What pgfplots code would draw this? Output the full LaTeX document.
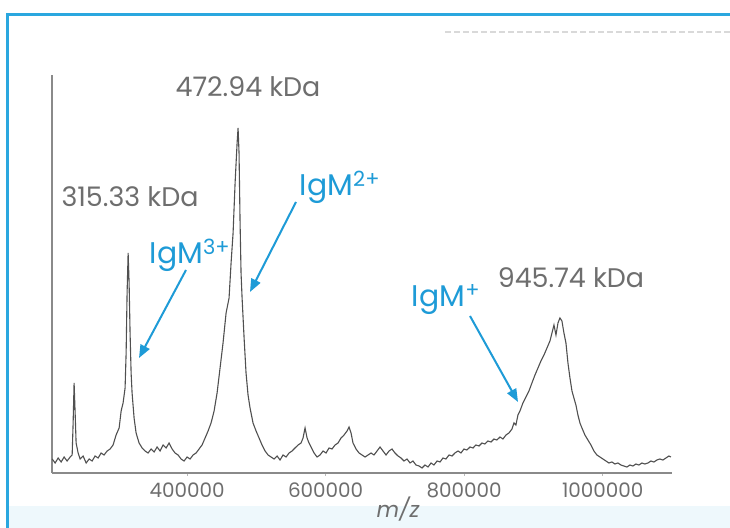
\documentclass[border=0pt]{standalone}
\usepackage{pgfplots}
\pgfplotsset{compat=1.18}
\usepackage{fontspec}
\setmainfont{Poppins}
\usetikzlibrary{arrows.meta}
\definecolor{txtgray}{HTML}{6E6E6E}
\definecolor{annblue}{HTML}{1E9BD7}
\definecolor{frameblue}{HTML}{2AA7DF}
\definecolor{axgray}{HTML}{8A8A8A}
\definecolor{specgray}{HTML}{505050}
\begin{document}
\begin{tikzpicture}[x=1bp,y=1bp]
\begin{scope}[shift={(-52bp,-55bp)}]
\useasboundingbox (0,0) rectangle (730,528);
\fill[white] (0,0) rectangle (730,528);
\fill[frameblue!8] (8,0) rectangle (730,22);
\draw[frameblue, line width=3bp] (8,0) -- (8,513) -- (730,513);
\draw[black!15, line width=1.2bp, dash pattern=on 6bp off 3bp] (445,496) -- (730,496);
\end{scope}
\begin{axis}[
  at={(0,0)}, anchor=south west,
  scale only axis, width=620bp, height=398bp,
  xmin=205000, xmax=1100000, ymin=0, ymax=398,
  axis x line*=bottom, axis y line*=left,
  axis line style={axgray, line width=1.3bp},
  ytick=\empty,
  xtick={400000,600000,800000,1000000},
  xticklabels={400000,600000,800000,1000000},
  scaled x ticks=false,
  tick align=outside, major tick length=3bp,
  tick style={axgray!60, line width=0.6bp},
  xticklabel style={font=\fontsize{20}{24}\selectfont, text=txtgray, yshift=-3bp},
  /pgf/number format/assume math mode=true,
  clip=false,
]
\addplot[specgray, line width=1.1bp] coordinates {
(205200,14) (209500,10) (213900,15) (218200,11) (222500,16) (226800,12) (231200,16) (234100,18)
(235500,50) (236900,90) (238400,60) (239800,30) (242700,20) (245600,14) (249900,17) (254300,10)
(258600,14) (262900,12) (267200,17) (271600,15) (275900,20) (280200,18) (284600,22) (288900,24)
(293200,28) (297500,38) (301900,45) (304800,62) (307600,70) (310500,85) (312000,120) (313400,180)
(314900,220) (316300,190) (317700,140) (319200,100) (320600,80) (323500,55) (326400,40) (330700,30)
(335100,25) (339400,22) (343700,20) (348100,24) (352400,21) (356700,26) (361000,22) (365400,28)
(369700,25) (374000,30) (378400,24) (382700,20) (387000,18) (391300,14) (395700,12) (400000,16)
(404300,14) (408700,18) (413000,20) (417300,24) (421600,28) (426000,35) (430300,42) (434600,50)
(439000,62) (443300,80) (447600,105) (451900,130) (456300,160) (460600,175) (463500,210) (466400,240)
(469300,290) (472200,330) (473600,345) (475000,320) (476500,250) (477900,200) (479400,175) (482300,135)
(485100,100) (488000,78) (490900,65) (495200,50) (499600,42) (503900,35) (508200,28) (512600,22)
(516900,18) (521200,16) (525500,14) (529900,17) (534200,13) (538500,18) (542900,16) (547200,20)
(551500,22) (555800,25) (560200,28) (564500,30) (567400,35) (570300,45) (573200,35) (576000,30)
(578900,26) (583300,20) (587600,16) (591900,18) (596200,22) (600600,20) (604900,25) (609200,24)
(613600,28) (617900,30) (622200,35) (626600,38) (630900,42) (633800,46) (636700,40) (639500,30)
(643900,24) (648200,20) (652500,18) (656900,16) (661200,18) (665500,20) (669800,18) (674200,22)
(678500,26) (682800,22) (687200,18) (691500,22) (695800,24) (700100,20) (704500,17) (708800,15)
(713100,12) (717500,14) (721800,10) (726100,12) (730400,8) (734800,7) (739100,5) (743400,8)
(747800,6) (752100,10) (756400,8) (760800,12) (765100,11) (769400,15) (773700,14) (778100,18)
(782400,17) (786700,20) (791100,22) (795400,20) (799700,24) (804000,23) (808400,26) (812700,25)
(817000,28) (821400,27) (825700,30) (830000,29) (834300,32) (838700,31) (843000,34) (847300,33)
(851700,36) (856000,34) (860300,38) (864600,40) (869000,44) (871900,50) (874700,48) (877600,58)
(880500,62) (884800,70) (889200,76) (893500,82) (897800,90) (902200,98) (906500,105) (910800,112)
(915200,118) (919500,125) (923800,132) (926700,140) (929600,148) (932500,138) (935400,150) (938200,155)
(941100,152) (944000,140) (946900,130) (949800,110) (952700,95) (955600,82) (958400,75) (961300,68)
(964200,58) (967100,50) (970000,45) (974300,38) (978600,33) (983000,28) (987300,22) (991600,18)
(996000,16) (1000300,14) (1004600,12) (1008900,10) (1013300,11) (1017600,9) (1021900,10) (1026300,8)
(1030600,7) (1034900,6) (1039200,8) (1043600,7) (1047900,9) (1052200,8) (1056600,10) (1060900,9)
(1065200,10) (1069600,12) (1073900,11) (1078200,13) (1082500,14) (1086900,13) (1091200,15) (1095500,17)
(1098400,16)
};
\end{axis}
\begin{scope}[shift={(-52bp,-55bp)}]
\node[text=txtgray, font=\fontsize{27}{32}\selectfont] at (248,441) {472.94 kDa};
\node[text=txtgray, font=\fontsize{27}{32}\selectfont] at (130,331) {315.33 kDa};
\node[text=txtgray, font=\fontsize{27}{32}\selectfont] at (571,250) {945.74 kDa};
\node[text=annblue, font=\fontsize{30}{34}\selectfont] at (190,273) {IgM\textsuperscript{3+}};
\node[text=annblue, font=\fontsize{30}{34}\selectfont] at (340,341) {IgM\textsuperscript{2+}};
\node[text=annblue, font=\fontsize{30}{34}\selectfont] at (446,228) {IgM\textsuperscript{+}};
\draw[annblue, line width=2bp, -{Triangle[length=13bp,width=10bp]}] (296,326) -- (250,236);
\draw[annblue, line width=2bp, -{Triangle[length=13bp,width=10bp]}] (186,258) -- (139,170);
\draw[annblue, line width=2bp, -{Triangle[length=13bp,width=10bp]}] (470,212) -- (518,126);
\node[text=txtgray, font=\fontsize{22}{26}\selectfont\itshape] at (398,19) {m/z};
\end{scope}
\end{tikzpicture}
\end{document}
